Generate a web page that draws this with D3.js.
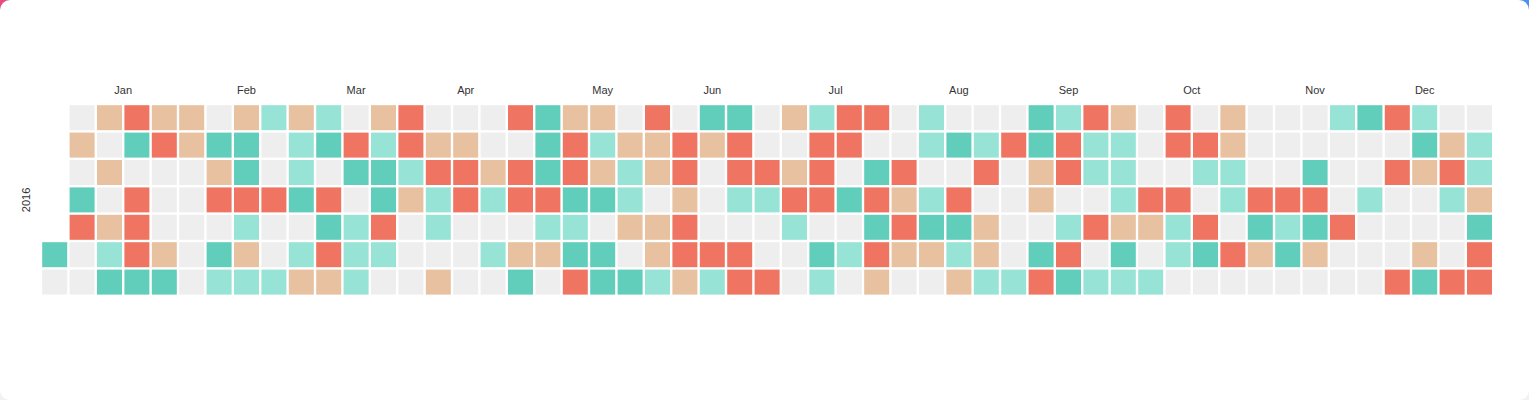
<!DOCTYPE html>
<html>
<head>
<meta charset="utf-8">
<script src="https://cdn.jsdelivr.net/npm/d3@7"></script>
<style>
  html, body { margin: 0; padding: 0; width: 1529px; height: 400px; overflow: hidden; }
  body {
    background:
      linear-gradient(to bottom, rgba(243,243,243,0) 0px, rgba(243,243,243,0) 30px, #f2f2f2 120px),
      linear-gradient(to right, #ea4a7c, #4d8ef2);
  }
  #card { position: absolute; left: 0; top: 0; width: 1529px; height: 400px; background: #fff; border-radius: 10px; overflow: hidden; }
  svg { display: block; font-family: "Liberation Sans", Arial, sans-serif; }
</style>
</head>
<body>
<div id="card"><svg id="chart" width="1529" height="400"></svg></div>
<script>
// ---- data (null = no value for that day) ----
const year = 2016;
const monthLabels = ["Jan","Feb","Mar","Apr","May","Jun","Jul","Aug","Sep","Oct","Nov","Dec"];
const jan = [60,null,null,260,null,60,360,null,null,260,null,260,null,260,160,60,360,60,null,360,360,360,60,260,360,null,null,null,260,60,260];
const feb = [260,null,null,null,null,null,null,60,260,360,null,60,160,260,60,60,360,160,260,160,160,null,null,360,null,null,160,260,160];
const mar = [160,60,null,160,260,160,60,null,360,60,360,260,null,360,60,null,160,160,160,260,160,60,60,360,160,null,360,360,160,260,null];
const apr = [null,null,null,260,360,160,160,null,260,null,260,360,360,null,null,null,null,null,260,160,null,160,null,360,null,360,360,null,260,60];
const may = [60,60,60,360,160,260,null,260,360,360,60,160,60,360,260,160,260,60,null,60,60,null,260,160,160,260,null,60,360,260,260];
const jun = [null,260,260,160,null,360,360,260,360,360,260,60,260,null,null,null,360,160,60,360,360,160,null,360,360,null,null,360,160,null];
const jul = [null,360,260,null,260,360,160,null,null,160,360,360,360,null,60,160,360,360,null,60,null,160,null,360,null,60,360,60,360,260,null];
const aug = [null,360,260,360,260,null,160,160,null,160,60,260,null,null,60,null,360,60,160,260,null,160,360,null,260,260,160,null,360,null,null];
const sep = [null,null,160,60,60,260,260,null,60,360,160,360,360,null,160,360,60,360,160,160,null,360,null,160,260,160,160,160,260,60];
const oct = [160,null,null,null,360,260,null,160,360,360,null,360,160,160,null,null,360,160,null,360,60,null,260,260,160,160,null,360,null,null,null];
const nov = [null,360,60,260,null,null,null,null,360,160,60,null,null,null,60,360,60,260,null,160,null,null,null,360,null,null,60,null,null,160];
const dec = [null,null,null,360,null,360,null,null,null,360,160,60,260,null,null,260,60,null,260,360,160,null,null,360,null,160,160,260,60,360,360];
const monthValues = [jan,feb,mar,apr,may,jun,jul,aug,sep,oct,nov,dec];
const valueDomain = [0, 400];
const colors = ["#61cdbb", "#97e3d5", "#e8c1a0", "#ef7562"];
const emptyColor = "#eeeeee";

// ---- build day records ----
const days = [];
monthValues.forEach((arr, m) => {
  arr.forEach((v, i) => days.push({ date: new Date(year, m, i + 1), value: v }));
});

const svg = d3.select("#chart");
const cell = 27.4;
const gridLeft = 41, gridTop = 104;
const nWeeks = d3.timeWeek.count(d3.timeYear(new Date(year,0,1)), new Date(year,11,31)) + 1;

const x = d3.scaleLinear().domain([0, nWeeks]).range([gridLeft, gridLeft + nWeeks * cell]);
const y = d3.scaleBand().domain(d3.range(7)).range([gridTop, gridTop + 7 * cell]).padding(0);
const color = d3.scaleQuantize().domain(valueDomain).range(colors);
const weekOf = d => d3.timeWeek.count(d3.timeYear(d), d);

const gap = 2.4;
svg.append("g").selectAll("rect").data(days).join("rect")
  .attr("x", d => x(weekOf(d.date)) + gap / 2)
  .attr("y", d => y(d.date.getDay()) + gap / 2)
  .attr("width", cell - gap)
  .attr("height", y.bandwidth() - gap)
  .attr("fill", d => d.value == null ? emptyColor : color(d.value));

// month labels centred over each month's block of weeks
svg.append("g").selectAll("text").data(monthLabels).join("text")
  .attr("x", (m, i) => {
    const first = new Date(year, i, 1), last = new Date(year, i + 1, 0);
    return (x(weekOf(first)) + x(weekOf(last) + 1)) / 2;
  })
  .attr("y", 90)
  .attr("text-anchor", "middle")
  .attr("dominant-baseline", "central")
  .attr("font-size", 11)
  .attr("fill", "#333")
  .text(d => d);

// year label
svg.append("text")
  .attr("transform", `translate(26,${gridTop + 3.5 * cell}) rotate(-90)`)
  .attr("text-anchor", "middle")
  .attr("dominant-baseline", "central")
  .attr("font-size", 11)
  .attr("fill", "#333")
  .text(year);
</script>
</body>
</html>
